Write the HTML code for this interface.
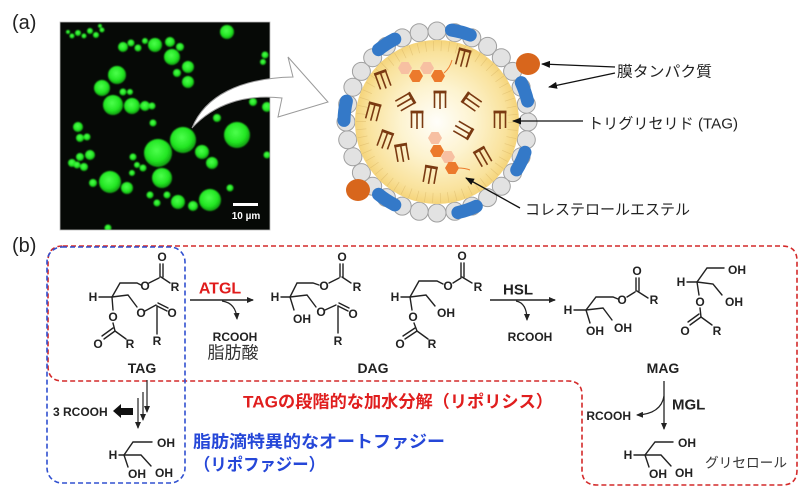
<!DOCTYPE html>
<html><head><meta charset="utf-8"><style>
html,body{margin:0;padding:0;background:#fff;}
svg{display:block;}
.l{font-family:"Liberation Sans","Noto Sans CJK JP",sans-serif;}
.a{font-family:"Liberation Sans",sans-serif;font-weight:bold;font-size:12px;fill:#222;}
.b{stroke:#222;stroke-width:1.4;fill:none;stroke-linecap:round;}
</style></head><body>
<svg width="800" height="493" viewBox="0 0 800 493" xmlns="http://www.w3.org/2000/svg">
<defs>
<radialGradient id="gg" cx="45%" cy="40%" r="60%"><stop offset="0" stop-color="#4dff4d"/><stop offset="0.65" stop-color="#22e622"/><stop offset="1" stop-color="#109a10"/></radialGradient>
<radialGradient id="core" cx="50%" cy="50%" r="50%"><stop offset="0" stop-color="#fffefa"/><stop offset="0.45" stop-color="#fdf3cf"/><stop offset="0.85" stop-color="#f9e29c"/><stop offset="1" stop-color="#f5d47a"/></radialGradient>
<clipPath id="ci"><rect x="60" y="22" width="210" height="208"/></clipPath>
<filter id="bl"><feGaussianBlur stdDeviation="0.7"/></filter>
<marker id="ar" markerUnits="userSpaceOnUse" markerWidth="9" markerHeight="7" refX="8" refY="3.5" orient="auto"><path d="M0,0 L9,3.5 L0,7 Z" fill="#111"/></marker>
<marker id="ar2" markerUnits="userSpaceOnUse" markerWidth="7" markerHeight="6" refX="6" refY="3" orient="auto"><path d="M0,0 L7,3 L0,6 Z" fill="#222"/></marker>
<g id="t"><path d="M-6.5,-8 H6.5" stroke="#7a3a12" stroke-width="2.8"/><path d="M-5.5,-8 V8 M0,-8 V9 M5.5,-8 V8" stroke="#7a3a12" stroke-width="1.6" fill="none"/></g>
<path id="hx" d="M7,0 L3.5,6.06 L-3.5,6.06 L-7,0 L-3.5,-6.06 L3.5,-6.06 Z"/>
</defs>

<!-- (a) -->
<text x="12" y="29" class="l" font-size="20" fill="#222">(a)</text>

<!-- microscopy -->
<rect x="60" y="22" width="210" height="208" fill="#060906"/>
<g clip-path="url(#ci)" filter="url(#bl)" fill="url(#gg)">
<circle cx="227" cy="32" r="7"/>
<circle cx="72" cy="36" r="2.5"/><circle cx="78" cy="33" r="3"/><circle cx="84" cy="36" r="2.5"/><circle cx="90" cy="31" r="3"/><circle cx="96" cy="35" r="3"/><circle cx="102" cy="30" r="2.5"/><circle cx="68" cy="32" r="2"/><circle cx="100" cy="26" r="2"/>
<circle cx="155" cy="45" r="7"/><circle cx="170" cy="42" r="5"/><circle cx="180" cy="47" r="4"/><circle cx="123" cy="47" r="5"/><circle cx="131" cy="43" r="3.5"/><circle cx="138" cy="48" r="3.5"/><circle cx="145" cy="41" r="3"/>
<circle cx="172" cy="57" r="8"/><circle cx="188" cy="67" r="6"/><circle cx="177" cy="73" r="4"/><circle cx="188" cy="82" r="6"/>
<circle cx="117" cy="75" r="9"/><circle cx="102" cy="88" r="8"/><circle cx="113" cy="105" r="10"/><circle cx="132" cy="106" r="8"/><circle cx="145" cy="106" r="5"/><circle cx="152" cy="106" r="3.5"/><circle cx="123" cy="92" r="3.5"/><circle cx="130" cy="92" r="3"/>
<circle cx="237" cy="135" r="13"/><circle cx="183" cy="140" r="13"/><circle cx="158" cy="153" r="14"/><circle cx="202" cy="152" r="7"/><circle cx="212" cy="163" r="6"/><circle cx="162" cy="178" r="10"/>
<circle cx="110" cy="182" r="11"/><circle cx="127" cy="188" r="6"/><circle cx="93" cy="183" r="4"/><circle cx="178" cy="202" r="7"/><circle cx="210" cy="200" r="11"/><circle cx="193" cy="206" r="5"/>
<circle cx="78" cy="127" r="5"/><circle cx="87" cy="137" r="3.5"/><circle cx="80" cy="138" r="4"/><circle cx="90" cy="155" r="5"/><circle cx="80" cy="157" r="4"/><circle cx="72" cy="163" r="4"/><circle cx="77" cy="165" r="3.5"/><circle cx="84" cy="167" r="4"/>
<circle cx="153" cy="123" r="3.5"/><circle cx="217" cy="118" r="4"/><circle cx="133" cy="157" r="3.5"/><circle cx="137" cy="165" r="3"/><circle cx="143" cy="168" r="3.5"/><circle cx="132" cy="173" r="3"/>
<circle cx="150" cy="195" r="3.5"/><circle cx="157" cy="203" r="3.5"/><circle cx="167" cy="195" r="3.5"/><circle cx="265" cy="55" r="3.5"/><circle cx="267" cy="107" r="5"/><circle cx="267" cy="155" r="3.5"/><circle cx="230" cy="188" r="3.5"/><circle cx="253" cy="102" r="4"/><circle cx="108" cy="228" r="3.5"/><circle cx="263" cy="62" r="3"/>
</g>
<rect x="60" y="22" width="210" height="208" fill="none" stroke="#bbb" stroke-width="0.8"/>
<rect x="233" y="203" width="25" height="3" fill="#fff"/>
<text x="246" y="219" text-anchor="middle" class="l" font-size="10" font-weight="bold" fill="#fff">10 µm</text>

<!-- curved arrow -->
<path d="M192,128 C205,96 240,78 293,77 L288,57 L328,102 L278,117 L282,98 C245,94 214,104 192,128 Z" fill="#fff" stroke="#9a9a9a" stroke-width="1"/>

<!-- lipid droplet -->
<g fill="#e2e2e2" stroke="#a0a0a0" stroke-width="1">
<circle cx="528" cy="122" r="9"/><circle cx="526.3" cy="139.8" r="9"/><circle cx="521.1" cy="156.8" r="9"/><circle cx="512.6" cy="172.6" r="9"/><circle cx="501.3" cy="186.3" r="9"/><circle cx="487.6" cy="197.6" r="9"/><circle cx="471.8" cy="206.1" r="9"/><circle cx="454.8" cy="211.3" r="9"/>
<circle cx="437" cy="213" r="9"/><circle cx="419.2" cy="211.3" r="9"/><circle cx="402.2" cy="206.1" r="9"/><circle cx="386.4" cy="197.6" r="9"/><circle cx="372.7" cy="186.3" r="9"/><circle cx="361.4" cy="172.6" r="9"/><circle cx="352.9" cy="156.8" r="9"/><circle cx="347.7" cy="139.8" r="9"/>
<circle cx="346" cy="122" r="9"/><circle cx="347.7" cy="104.2" r="9"/><circle cx="352.9" cy="87.2" r="9"/><circle cx="361.4" cy="71.4" r="9"/><circle cx="372.7" cy="57.7" r="9"/><circle cx="386.4" cy="46.4" r="9"/><circle cx="402.2" cy="37.9" r="9"/><circle cx="419.2" cy="32.7" r="9"/>
<circle cx="437" cy="31" r="9"/><circle cx="454.8" cy="32.7" r="9"/><circle cx="471.8" cy="37.9" r="9"/><circle cx="487.6" cy="46.4" r="9"/><circle cx="501.3" cy="57.7" r="9"/><circle cx="512.6" cy="71.4" r="9"/><circle cx="521.1" cy="87.2" r="9"/><circle cx="526.3" cy="104.2" r="9"/>
</g>
<circle cx="437" cy="122" r="82" fill="url(#core)"/>
<circle cx="437" cy="122" r="76" fill="none" stroke="#d9b768" stroke-width="10" stroke-dasharray="0.7 7" opacity="0.55"/>
<g fill="none" stroke="#3479c8" stroke-width="13" stroke-linecap="round">
<path d="M378.5,49.7 A93,93 0 0 1 394.8,39.1"/>
<path d="M451.5,30.1 A93,93 0 0 1 470.3,35.1"/>
<path d="M344,120.4 A93,93 0 0 1 346.4,101.1"/>
<path d="M521.3,82.7 A93,93 0 0 1 527.6,101.1"/>
<path d="M525,152.3 A93,93 0 0 1 516.7,169.9"/>
<path d="M394.8,204.9 A93,93 0 0 1 378.5,194.3"/>
<path d="M476.3,206.3 A93,93 0 0 1 457.9,212.6"/>
</g>
<ellipse cx="528" cy="64" rx="12" ry="11" fill="#d8661c"/>
<ellipse cx="358" cy="190" rx="12" ry="11" fill="#d8661c"/>
<use href="#t" transform="translate(463,58) rotate(15)"/>
<use href="#t" transform="translate(383,80) rotate(-20)"/>
<use href="#t" transform="translate(405,102) rotate(60)"/>
<use href="#t" transform="translate(440,100) rotate(0)"/>
<use href="#t" transform="translate(472,102) rotate(-55)"/>
<use href="#t" transform="translate(500,120) rotate(0)"/>
<use href="#t" transform="translate(373,112) rotate(15)"/>
<use href="#t" transform="translate(417,120) rotate(0)"/>
<use href="#t" transform="translate(463,130) rotate(120)"/>
<use href="#t" transform="translate(385,140) rotate(20)"/>
<use href="#t" transform="translate(402,153) rotate(-10)"/>
<use href="#t" transform="translate(483,157) rotate(-30)"/>
<use href="#t" transform="translate(430,175) rotate(10)"/>
<use href="#hx" transform="translate(405,68)" fill="#f7c0a2"/>
<use href="#hx" transform="translate(416,76)" fill="#ec7a2c"/>
<use href="#hx" transform="translate(427,68)" fill="#f7c0a2"/>
<use href="#hx" transform="translate(438,76)" fill="#ec7a2c"/>
<path d="M444,73 Q450,68 452,60" fill="none" stroke="#ec7a2c" stroke-width="1"/>
<use href="#hx" transform="translate(435,138)" fill="#f7c0a2"/>
<use href="#hx" transform="translate(437,151)" fill="#ec7a2c"/>
<use href="#hx" transform="translate(448,157)" fill="#f7c0a2"/>
<use href="#hx" transform="translate(452,168)" fill="#ec7a2c"/>
<path d="M458,168 Q465,168 470,170" fill="none" stroke="#ec7a2c" stroke-width="1"/>

<!-- labels -->
<g stroke="#111" stroke-width="1.3" fill="none">
<line x1="615" y1="67" x2="542" y2="64" marker-end="url(#ar)"/>
<line x1="615" y1="73" x2="549" y2="87" marker-end="url(#ar)"/>
<line x1="583" y1="121" x2="513" y2="121" marker-end="url(#ar)"/>
<line x1="520" y1="208" x2="466" y2="178" marker-end="url(#ar)"/>
</g>
<g class="l" font-size="15" fill="#222" dominant-baseline="central">
<text x="617" y="72" textLength="95" lengthAdjust="spacingAndGlyphs">膜タンパク質</text>
<text x="588" y="124" textLength="150" lengthAdjust="spacingAndGlyphs">トリグリセリド (TAG)</text>
<text x="525" y="210" textLength="165" lengthAdjust="spacingAndGlyphs">コレステロールエステル</text>
</g>

<!-- (b) -->
<text x="12" y="252" class="l" font-size="20" fill="#222">(b)</text>
<path d="M63,246 H782 Q797,246 797,261 V470 Q797,485 782,485 H597 Q582,485 582,470 V395 Q582,381 568,381 H63 Q48,381 48,366 V261 Q48,246 63,246 Z" fill="none" stroke="#d42a2a" stroke-width="1.6" stroke-dasharray="5 3"/>
<rect x="47" y="247" width="138" height="236" rx="15" fill="none" stroke="#3050d0" stroke-width="1.6" stroke-dasharray="5 3"/>

<!-- TAG -->
<g class="b">
<path d="M99,297 H112 L120,283 H137 L141,285"/>
<path d="M149,283 L159,278"/><path d="M160,277 V264 M163,277 V264"/><path d="M161,277 L170,283"/>
<path d="M112,297 L128,295 L137,307"/>
<path d="M145,311 L156,305"/><path d="M157,306 L167,311 M158,303 L168,308"/><path d="M157,306 V334"/>
<path d="M112,297 L113,310"/><path d="M113,323 L115,331"/><path d="M115,331 L104,339 M113,328 L102,336"/><path d="M115,331 L126,339"/>
</g>
<g class="a" text-anchor="middle" dominant-baseline="central">
<text x="93" y="297">H</text><text x="145" y="286">O</text><text x="162" y="257">O</text><text x="175" y="287">R</text>
<text x="141" y="313">O</text><text x="172" y="313">O</text><text x="157" y="341">R</text>
<text x="113" y="317">O</text><text x="98" y="344">O</text><text x="130" y="344">R</text>
</g>
<text x="142" y="368" text-anchor="middle" dominant-baseline="central" class="l" font-size="14" font-weight="bold" fill="#222">TAG</text>

<!-- ATGL -->
<text x="220" y="289" text-anchor="middle" dominant-baseline="central" class="l" font-size="16" font-weight="bold" fill="#e01b1b">ATGL</text>
<line x1="190" y1="300" x2="253" y2="300" stroke="#222" stroke-width="1.4" marker-end="url(#ar2)"/>
<path d="M222,301 Q236,303 237,319" fill="none" stroke="#222" stroke-width="1.2" marker-end="url(#ar2)"/>
<text x="235" y="337" text-anchor="middle" dominant-baseline="central" class="a" font-size="11">RCOOH</text>
<text x="233" y="353" text-anchor="middle" dominant-baseline="central" class="l" font-size="17" fill="#333">脂肪酸</text>

<!-- DAG 1 -->
<g class="b">
<path d="M281,297 H290 L297,283 H313 L319,285"/>
<path d="M329,283 L339,278"/><path d="M340,277 V264 M343,277 V264"/><path d="M342,277 L351,283"/>
<path d="M290,297 L294,310"/>
<path d="M290,297 L307,295 L316,307"/><path d="M325,310 L336,305"/><path d="M338,306 L348,311 M339,303 L349,308"/><path d="M338,306 V333"/>
</g>
<g class="a" text-anchor="middle" dominant-baseline="central">
<text x="275" y="297">H</text><text x="324" y="286">O</text><text x="342" y="257">O</text><text x="357" y="287">R</text>
<text x="302" y="319">OH</text><text x="321" y="312">O</text><text x="353" y="314">O</text><text x="338" y="341">R</text>
</g>
<!-- DAG 2 -->
<g class="b">
<path d="M401,297 H410 L419,281 H437 L443,284"/>
<path d="M453,283 L461,278"/><path d="M461,277 V263 M464,277 V263"/><path d="M462,277 L472,283"/>
<path d="M410,297 L426,295 L435,306"/>
<path d="M410,297 L412,310"/><path d="M414,323 L417,331"/><path d="M417,331 L405,339 M415,328 L403,336"/><path d="M417,331 L428,339"/>
</g>
<g class="a" text-anchor="middle" dominant-baseline="central">
<text x="395" y="297">H</text><text x="448" y="286">O</text><text x="462" y="256">O</text><text x="478" y="287">R</text>
<text x="446" y="313">OH</text><text x="413" y="317">O</text><text x="400" y="344">O</text><text x="432" y="344">R</text>
</g>
<text x="373" y="368" text-anchor="middle" dominant-baseline="central" class="l" font-size="14" font-weight="bold" fill="#222">DAG</text>

<!-- HSL -->
<text x="518" y="290" text-anchor="middle" dominant-baseline="central" class="l" font-size="15" font-weight="bold" fill="#222">HSL</text>
<line x1="490" y1="300" x2="555" y2="300" stroke="#222" stroke-width="1.4" marker-end="url(#ar2)"/>
<path d="M516,301 Q527,303 527,320" fill="none" stroke="#222" stroke-width="1.2" marker-end="url(#ar2)"/>
<text x="530" y="337" text-anchor="middle" dominant-baseline="central" class="a" font-size="11">RCOOH</text>

<!-- MAG 1 -->
<g class="b">
<path d="M574,310 H586 L596,297 H613 L618,299"/>
<path d="M627,297 L635,292"/><path d="M636,291 V278 M639,291 V278"/><path d="M637,291 L648,298"/>
<path d="M586,310 L590,323"/>
<path d="M586,310 L603,308 L612,320"/>
</g>
<g class="a" text-anchor="middle" dominant-baseline="central">
<text x="568" y="310">H</text><text x="622" y="300">O</text><text x="637" y="271">O</text><text x="654" y="300">R</text>
<text x="595" y="331">OH</text><text x="623" y="328">OH</text>
</g>
<!-- MAG 2 -->
<g class="b">
<path d="M687,282 H697 L707,268 H724"/>
<path d="M697,282 L713,284 L722,295"/>
<path d="M697,282 L699,295"/><path d="M700,308 L701,317"/><path d="M701,317 L690,325 M699,314 L688,322"/><path d="M701,317 L712,325"/>
</g>
<g class="a" text-anchor="middle" dominant-baseline="central">
<text x="681" y="282">H</text><text x="737" y="270">OH</text><text x="734" y="302">OH</text>
<text x="700" y="302">O</text><text x="685" y="331">O</text><text x="717" y="331">R</text>
</g>
<text x="663" y="368" text-anchor="middle" dominant-baseline="central" class="l" font-size="14" font-weight="bold" fill="#222">MAG</text>

<!-- MGL -->
<line x1="664" y1="381" x2="664" y2="429" stroke="#222" stroke-width="1.3" marker-end="url(#ar2)"/>
<path d="M664,396 Q661,414 637,415" fill="none" stroke="#222" stroke-width="1.2" marker-end="url(#ar2)"/>
<text x="631" y="416" text-anchor="end" dominant-baseline="central" class="a" font-size="11">RCOOH</text>
<text x="672" y="405" dominant-baseline="central" class="l" font-size="15" font-weight="bold" fill="#222">MGL</text>

<!-- glycerol right -->
<g class="b">
<path d="M634,455 H645 L655,442 H673"/>
<path d="M645,455 L649,467"/>
<path d="M645,455 L661,455 L671,466"/>
</g>
<g class="a" text-anchor="middle" dominant-baseline="central">
<text x="628" y="455">H</text><text x="687" y="443">OH</text><text x="658" y="474">OH</text><text x="684" y="473">OH</text>
</g>
<text x="705" y="463" dominant-baseline="central" class="l" font-size="13.5" fill="#333" textLength="82" lengthAdjust="spacingAndGlyphs">グリセロール</text>

<!-- left lipophagy -->
<line x1="147" y1="380" x2="147" y2="412" stroke="#222" stroke-width="1.2" marker-end="url(#ar2)"/>
<line x1="143" y1="392" x2="143" y2="420" stroke="#222" stroke-width="1.2" marker-end="url(#ar2)"/>
<line x1="138" y1="398" x2="138" y2="428" stroke="#222" stroke-width="1.2" marker-end="url(#ar2)"/>
<path d="M113,411 L121,404 L121,408 L133,408 L133,415 L121,415 L121,418 Z" fill="#111"/>
<text x="53" y="412" dominant-baseline="central" class="a" font-size="11">3 RCOOH</text>
<g class="b">
<path d="M119,455 H124 L133,442 H152"/>
<path d="M124,455 L128,467"/>
<path d="M124,455 L141,455 L151,466"/>
</g>
<g class="a" text-anchor="middle" dominant-baseline="central">
<text x="113" y="455">H</text><text x="166" y="443">OH</text><text x="137" y="474">OH</text><text x="164" y="473">OH</text>
</g>

<!-- captions -->
<text x="243" y="402" dominant-baseline="central" class="l" font-size="17" font-weight="bold" fill="#e01e1e" textLength="310" lengthAdjust="spacingAndGlyphs">TAGの段階的な加水分解（リポリシス）</text>
<text x="193" y="442" dominant-baseline="central" class="l" font-size="17" font-weight="bold" fill="#2547d8" textLength="252" lengthAdjust="spacingAndGlyphs">脂肪滴特異的なオートファジー</text>
<text x="194" y="465" dominant-baseline="central" class="l" font-size="17" font-weight="bold" fill="#2547d8" textLength="131" lengthAdjust="spacingAndGlyphs">（リポファジー）</text>
</svg>
</body></html>
